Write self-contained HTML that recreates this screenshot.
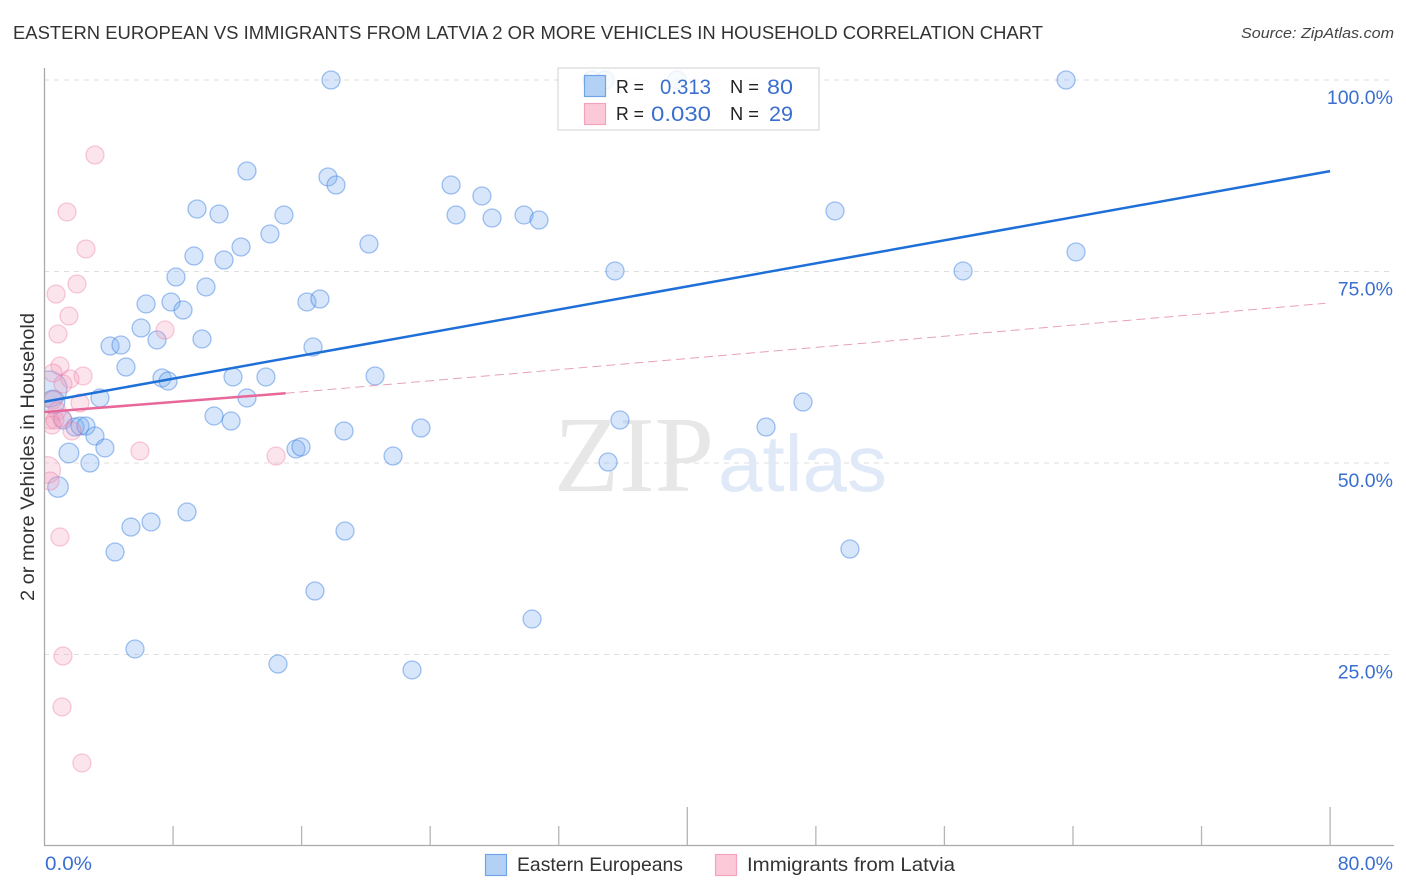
<!DOCTYPE html>
<html lang="en">
<head>
<meta charset="utf-8">
<title>Eastern European vs Immigrants from Latvia correlation chart</title>
<style>
html,body{margin:0;padding:0;background:#fff;width:1406px;height:892px;overflow:hidden}
svg{display:block;font-family:"Liberation Sans",sans-serif}
</style>
</head>
<body>
<svg id="chart" width="1406" height="892" viewBox="0 0 1406 892" xmlns="http://www.w3.org/2000/svg">
<defs><clipPath id="plot-clip"><rect x="45" y="60" width="1350" height="785"/></clipPath></defs>
<text x="13" y="39" font-size="18.5" fill="#333" textLength="1030" lengthAdjust="spacingAndGlyphs">EASTERN EUROPEAN VS IMMIGRANTS FROM LATVIA 2 OR MORE VEHICLES IN HOUSEHOLD CORRELATION CHART</text>
<text x="1241" y="38" font-size="15" font-style="italic" fill="#444" textLength="153" lengthAdjust="spacingAndGlyphs">Source: ZipAtlas.com</text>
<text transform="translate(34,457) rotate(-90)" font-size="19" fill="#333" text-anchor="middle" textLength="288" lengthAdjust="spacingAndGlyphs">2 or more Vehicles in Household</text>
<g id="grid"></g>
<g>
<text x="554" y="491" font-family="'Liberation Serif',serif" font-size="108" fill="#e7e7e7" textLength="160" lengthAdjust="spacingAndGlyphs">ZIP</text>
<text x="718" y="491" font-size="80" fill="#dfe9f8">atlas</text>
</g>
<g id="axes"></g>
<g id="bubbles-blue" clip-path="url(#plot-clip)"></g>
<g id="bubbles-pink" clip-path="url(#plot-clip)"></g>
<g id="trends"></g>
<g id="tick-labels"></g>
<g>
<rect x="558" y="68" width="261" height="62" fill="#fff" fill-opacity="0.82" stroke="#d8d8d8" stroke-width="1.2"/>
<rect x="584.5" y="75.5" width="21" height="21" fill="#b3d1f5" stroke="#6fa5e8" stroke-width="1.2"/>
<rect x="584.5" y="103.5" width="21" height="21" fill="#fcc9d9" stroke="#f4a3bd" stroke-width="1.2"/>
<text x="616" y="93" font-size="18.5" fill="#222" textLength="28" lengthAdjust="spacingAndGlyphs">R =</text>
<text x="660" y="94" font-size="21.5" fill="#3a6fd0" textLength="51" lengthAdjust="spacingAndGlyphs">0.313</text>
<text x="730" y="93" font-size="18.5" fill="#222" textLength="29" lengthAdjust="spacingAndGlyphs">N =</text>
<text x="767" y="94" font-size="21.5" fill="#3a6fd0" textLength="26" lengthAdjust="spacingAndGlyphs">80</text>
<text x="616" y="120" font-size="18.5" fill="#222" textLength="28" lengthAdjust="spacingAndGlyphs">R =</text>
<text x="651" y="121" font-size="21.5" fill="#3a6fd0" textLength="60" lengthAdjust="spacingAndGlyphs">0.030</text>
<text x="730" y="120" font-size="18.5" fill="#222" textLength="29" lengthAdjust="spacingAndGlyphs">N =</text>
<text x="769" y="121" font-size="21.5" fill="#3a6fd0" textLength="24" lengthAdjust="spacingAndGlyphs">29</text>
</g>
<g>
<rect x="485.5" y="854.5" width="21" height="21" fill="#b3d1f5" stroke="#6fa5e8" stroke-width="1.2"/>
<text x="517" y="871" font-size="19.5" fill="#333" textLength="166" lengthAdjust="spacingAndGlyphs">Eastern Europeans</text>
<rect x="715.5" y="854.5" width="21" height="21" fill="#fcc9d9" stroke="#f4a3bd" stroke-width="1.2"/>
<text x="747" y="871" font-size="19.5" fill="#333" textLength="208" lengthAdjust="spacingAndGlyphs">Immigrants from Latvia</text>
</g>
</svg>
<script>
const yTickValues = [100, 75, 50, 25];
const yTickLabels = ["100.0%", "75.0%", "50.0%", "25.0%"];
const xTickValues = [0, 8, 16, 24, 32, 40, 48, 56, 64, 72, 80];
const xEndLabels = ["0.0%", "80.0%"];

const blueX = [17.83,34.88,34.07,39.36,63.57,12.60,17.64,18.14,25.30,27.22,9.49,10.86,14.90,25.61,27.85,29.84,30.77,49.19,14.03,12.23,20.19,9.30,11.17,64.19,35.50,57.16,8.18,10.05,6.32,7.87,8.62,16.33,17.14,6.01,7.00,4.08,4.76,9.80,16.71,5.07,7.31,7.69,11.73,13.78,20.57,0.28,3.45,12.60,0.53,47.20,10.55,11.61,35.81,1.15,1.90,2.21,2.58,3.14,18.64,23.43,44.90,3.76,1.52,15.65,15.96,21.69,2.83,35.07,0.84,8.87,6.63,5.38,18.70,4.39,50.12,16.83,30.34,5.63,14.53,22.87];
const blueY = [100,100,100,100,100,88.12,87.34,86.29,86.29,84.86,83.16,82.51,82.38,82.38,81.98,82.38,81.72,82.90,79.90,78.20,78.59,77.02,76.50,77.55,75.07,75.07,74.28,72.98,70.76,71.02,69.97,71.02,71.41,67.62,66.06,65.27,65.40,66.19,65.14,62.53,61.10,60.70,61.23,61.23,61.36,59.66,58.49,58.49,57.96,57.96,56.14,55.48,55.61,55.61,54.70,54.83,54.83,53.52,54.18,54.57,54.70,51.96,51.31,51.83,52.09,50.91,50.00,50.13,46.87,43.60,42.30,41.64,41.12,38.38,38.77,33.29,29.63,25.72,23.76,22.98];
const blueWeight = [1,1,1,1,1,1,1,1,1,1,1,1,1,1,1,1,1,1,1,1,1,1,1,1,1,1,1,1,1,1,1,1,1,1,1,1,1,1,1,1,1,1,1,1,1,4,1,1,1.7,1,1,1,1,1,1,1,1,1,1,1,1,1,1.2,1,1,1,1,1,1.3,1,1,1,1,1,1,1,1,1,1,1];

const pinkX = [3.14,1.40,2.58,2.02,0.72,1.52,0.84,7.50,0.96,0.53,1.59,2.40,1.15,2.21,0.53,0.78,0.34,0.65,0.47,1.09,1.71,5.94,14.41,0.16,0.34,0.96,1.15,1.09,2.33];
const pinkY = [90.21,82.77,77.94,73.37,72.06,69.19,66.84,67.36,62.66,61.75,60.97,61.36,60.31,57.83,58.22,56.79,55.61,55.61,54.96,55.87,54.18,51.57,50.91,49.09,47.65,40.34,24.80,18.15,10.84];
const pinkWeight = [1,1,1,1,1,1,1,1,1,1,1,1,1,1,1,1,1,1,1,1,1,1,1,2.2,1,1,1,1,1];

const blueTrendX = [0, 80];
const blueTrendY = [58.0, 88.1];
const pinkTrendSolidX = [0, 15];
const pinkTrendSolidY = [56.65, 59.1];
const pinkTrendDashX = [15, 79.7];
const pinkTrendDashY = [59.1, 70.85];

const NS = "http://www.w3.org/2000/svg";
const sx = v => 44.5 + v * 16.07;
const sy = v => 80 + (100 - v) * 7.66;
const radius = w => 9 * Math.sqrt(w);

function make(tag, parent, props) {
  const el = document.createElementNS(NS, tag);
  for (const k in props) el.setAttribute(k, props[k]);
  parent.appendChild(el);
  return el;
}

const gridG = document.getElementById("grid");
yTickValues.forEach(v => {
  const gl = make("line", gridG, {x1: 44, x2: 1394, y1: sy(v), y2: sy(v), stroke: "#dedede", "stroke-width": 1, "stroke-dasharray": "5 5"});
  
  
});

const axesG = document.getElementById("axes");
const yAxisLine = make("line", axesG, {x1: 44.5, x2: 44.5, y1: 68, y2: 846, stroke: "#aaa", "stroke-width": 1.3});


const xAxisLine = make("line", axesG, {x1: 44, x2: 1394, y1: 845.5, y2: 845.5, stroke: "#aaa", "stroke-width": 1.3});


xTickValues.slice(1).forEach(v => {
  const tall = v === 40 || v === 80;
  const t = make("line", axesG, {x1: sx(v), x2: sx(v), y1: tall ? 807 : 826, y2: 845, stroke: "#b5b5b5", "stroke-width": 1.3});
  
  
});

function drawBubbles(groupId, xs, ys, ws, fill, stroke, name) {
  const g = document.getElementById(groupId);
  xs.forEach((x, i) => {
    const c = make("circle", g, {cx: sx(x), cy: sy(ys[i]), r: radius(ws[i]), fill: fill, stroke: stroke, "stroke-width": 1.3});
    
    
  });
}
drawBubbles("bubbles-blue", blueX, blueY, blueWeight, "rgba(125,175,238,0.31)", "rgba(55,125,225,0.45)", "eastern-europeans-point");
drawBubbles("bubbles-pink", pinkX, pinkY, pinkWeight, "rgba(245,155,188,0.27)", "rgba(235,115,158,0.36)", "immigrants-from-latvia-point");

const trendG = document.getElementById("trends");
const blueLine = make("line", trendG, {x1: sx(blueTrendX[0]), y1: sy(blueTrendY[0]), x2: sx(blueTrendX[1]), y2: sy(blueTrendY[1]), stroke: "#1f6fd8", "stroke-width": 2.5});


const pinkLine = make("line", trendG, {x1: sx(pinkTrendSolidX[0]), y1: sy(pinkTrendSolidY[0]), x2: sx(pinkTrendSolidX[1]), y2: sy(pinkTrendSolidY[1]), stroke: "#e8679a", "stroke-width": 2.5});


const pinkDash = make("line", trendG, {x1: sx(pinkTrendDashX[0]), y1: sy(pinkTrendDashY[0]), x2: sx(pinkTrendDashX[1]), y2: sy(pinkTrendDashY[1]), stroke: "#e8a0bc", "stroke-width": 1, "stroke-dasharray": "9 5"});



const labelG = document.getElementById("tick-labels");
yTickValues.forEach((v, i) => {
  const t = make("text", labelG, {x: 1393, y: sy(v) + 24, "font-size": 19.5, fill: "#3a6fd0", "text-anchor": "end"});
  t.textContent = yTickLabels[i];
  
  
});
const x0Label = make("text", labelG, {x: 45, y: 870, "font-size": 19.5, fill: "#3a6fd0", textLength: 47, lengthAdjust: "spacingAndGlyphs"});
x0Label.textContent = xEndLabels[0];


const x1Label = make("text", labelG, {x: 1393, y: 870, "font-size": 19.5, fill: "#3a6fd0", "text-anchor": "end"});
x1Label.textContent = xEndLabels[1];


</script>
</body>
</html>
